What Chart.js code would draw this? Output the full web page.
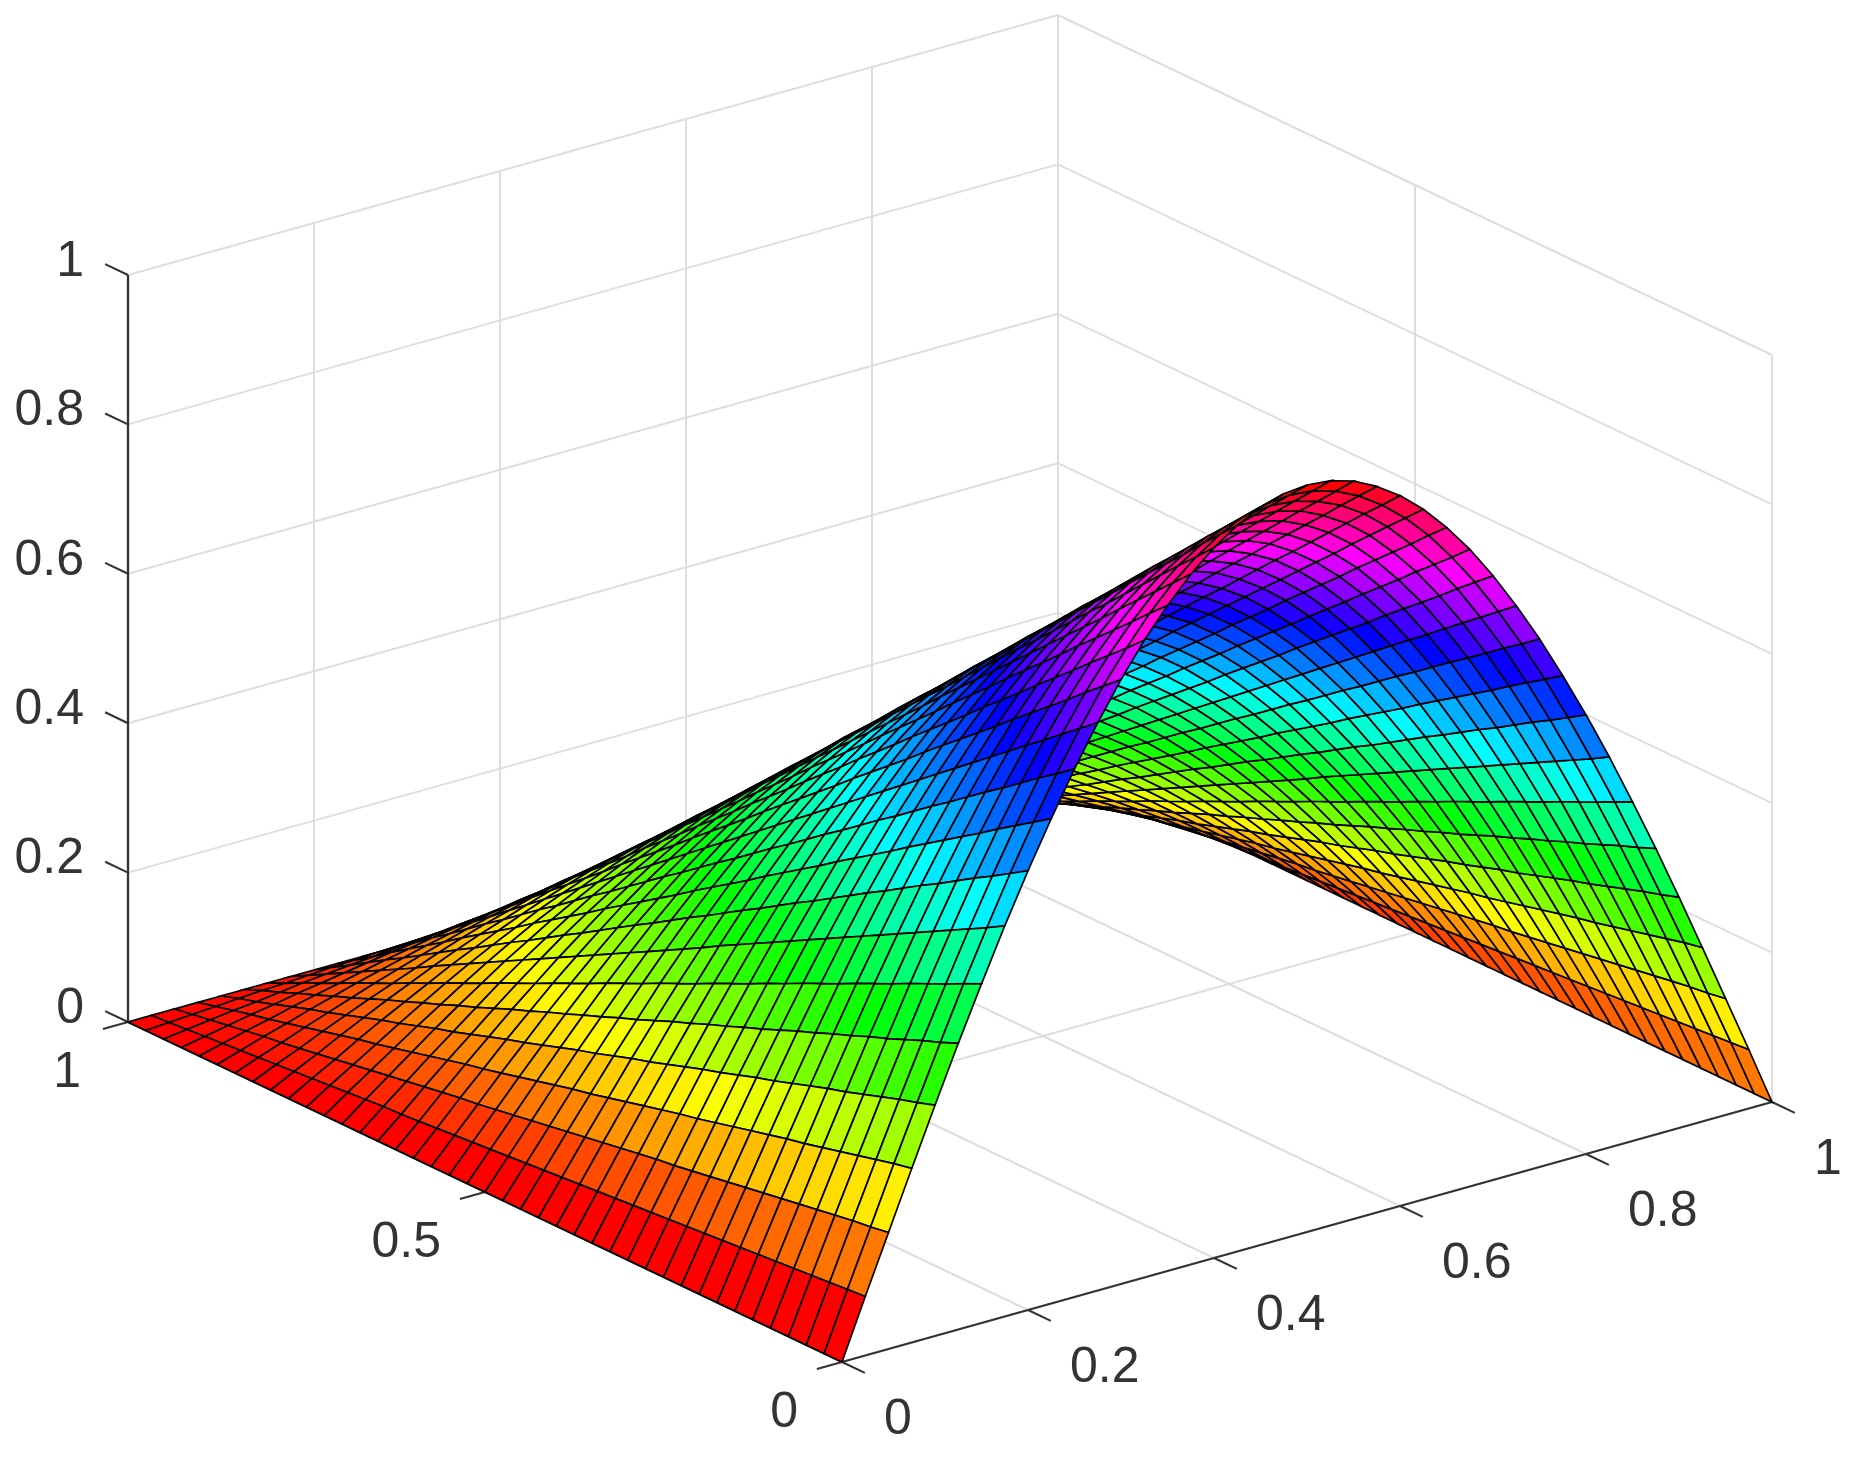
<!DOCTYPE html>
<html>
<head>
<meta charset="utf-8">
<title>Surface</title>
<script src="https://cdn.jsdelivr.net/npm/chart.js@4/dist/chart.umd.min.js"></script>
<style>
html,body{margin:0;padding:0;background:#fff}
canvas{display:block;filter:blur(.5px)}
</style>
</head>
<body>
<canvas id="chart" width="1853" height="1462"></canvas>
<script>
// mesh positions
var xMesh = [0,.025,.05,.075,.1,.125,.15,.175,.2,.225,.25,.275,.3,.325,.35,.375,.4,.425,.45,.475,.5,.525,.55,.575,.6,.625,.65,.675,.7,.725,.75,.775,.8,.825,.85,.875,.9,.925,.95,.975,1];
var yMesh = [0,.025,.05,.075,.1,.125,.15,.175,.2,.225,.25,.275,.3,.325,.35,.375,.4,.425,.45,.475,.5,.525,.55,.575,.6,.625,.65,.675,.7,.725,.75,.775,.8,.825,.85,.875,.9,.925,.95,.975,1];

// surface height, one row per yMesh value, x = 0 .. 0.5 (the arch is the same on the other side)
var zRows = [
[0,.079,.156,.233,.309,.383,.454,.523,.588,.649,.707,.760,.809,.853,.891,.924,.951,.972,.988,.997,1],
[0,.077,.152,.228,.301,.373,.443,.509,.573,.633,.689,.741,.789,.831,.869,.901,.927,.948,.963,.972,.975],
[0,.075,.149,.222,.294,.364,.431,.496,.558,.617,.672,.722,.769,.810,.846,.878,.904,.924,.938,.947,.950],
[0,.073,.145,.216,.286,.354,.420,.483,.544,.601,.654,.703,.748,.789,.824,.855,.880,.899,.914,.922,.925],
[0,.071,.141,.210,.278,.344,.409,.470,.529,.584,.636,.684,.728,.767,.802,.832,.856,.875,.889,.897,.900],
[0,.069,.137,.204,.270,.335,.397,.457,.514,.568,.619,.665,.708,.746,.780,.808,.832,.851,.864,.872,.875],
[0,.067,.133,.198,.263,.325,.386,.444,.500,.552,.601,.646,.688,.725,.757,.785,.808,.827,.840,.847,.850],
[0,.065,.129,.193,.255,.316,.375,.431,.485,.536,.583,.627,.667,.703,.735,.762,.785,.802,.815,.822,.825],
[0,.063,.125,.187,.247,.306,.363,.418,.470,.520,.566,.608,.647,.682,.713,.739,.761,.778,.790,.798,.800],
[0,.061,.121,.181,.239,.297,.352,.405,.456,.503,.548,.589,.627,.661,.691,.716,.737,.754,.765,.773,.775],
[0,.059,.117,.175,.232,.287,.341,.392,.441,.487,.530,.570,.607,.639,.668,.693,.713,.729,.741,.748,.750],
[0,.057,.113,.169,.224,.277,.329,.379,.426,.471,.513,.551,.587,.618,.646,.670,.690,.705,.716,.723,.725],
[0,.055,.109,.163,.216,.268,.318,.366,.411,.455,.495,.532,.566,.597,.624,.647,.666,.681,.691,.698,.700],
[0,.053,.106,.158,.209,.258,.306,.353,.397,.438,.477,.513,.546,.576,.601,.624,.642,.656,.667,.673,.675],
[0,.051,.102,.152,.201,.249,.295,.340,.382,.422,.460,.494,.526,.554,.579,.601,.618,.632,.642,.648,.650],
[0,.049,.098,.146,.193,.239,.284,.327,.367,.406,.442,.475,.506,.533,.557,.577,.594,.608,.617,.623,.625],
[0,.047,.094,.140,.185,.230,.272,.314,.353,.390,.424,.456,.485,.512,.535,.554,.571,.583,.593,.598,.600],
[0,.045,.090,.134,.178,.220,.261,.300,.338,.373,.407,.437,.465,.490,.512,.531,.547,.559,.568,.573,.575],
[0,.043,.086,.128,.170,.210,.250,.287,.323,.357,.389,.418,.445,.469,.490,.508,.523,.535,.543,.548,.550],
[0,.041,.082,.123,.162,.201,.238,.274,.309,.341,.371,.399,.425,.448,.468,.485,.499,.511,.519,.523,.525],
[0,.039,.078,.117,.155,.191,.227,.261,.294,.325,.354,.380,.405,.426,.446,.462,.476,.486,.494,.498,.500],
[0,.037,.074,.111,.147,.182,.216,.248,.279,.308,.336,.361,.384,.405,.423,.439,.452,.462,.469,.474,.475],
[0,.035,.070,.105,.139,.172,.204,.235,.265,.292,.318,.342,.364,.384,.401,.416,.428,.438,.444,.449,.450],
[0,.033,.066,.099,.131,.163,.193,.222,.250,.276,.301,.323,.344,.362,.379,.393,.404,.413,.420,.424,.425],
[0,.031,.063,.093,.124,.153,.182,.209,.235,.260,.283,.304,.324,.341,.356,.370,.380,.389,.395,.399,.400],
[0,.029,.059,.088,.116,.144,.170,.196,.220,.244,.265,.285,.303,.320,.334,.346,.357,.365,.370,.374,.375],
[0,.027,.055,.082,.108,.134,.159,.183,.206,.227,.247,.266,.283,.298,.312,.323,.333,.340,.346,.349,.350],
[0,.026,.051,.076,.100,.124,.148,.170,.191,.211,.230,.247,.263,.277,.290,.300,.309,.316,.321,.324,.325],
[0,.024,.047,.070,.093,.115,.136,.157,.176,.195,.212,.228,.243,.256,.267,.277,.285,.292,.296,.299,.300],
[0,.022,.043,.064,.085,.105,.125,.144,.162,.179,.194,.209,.222,.234,.245,.254,.262,.267,.272,.274,.275],
[0,.020,.039,.058,.077,.096,.114,.131,.147,.162,.177,.190,.202,.213,.223,.231,.238,.243,.247,.249,.250],
[0,.018,.035,.053,.070,.086,.102,.118,.132,.146,.159,.171,.182,.192,.200,.208,.214,.219,.222,.224,.225],
[0,.016,.031,.047,.062,.077,.091,.105,.118,.130,.141,.152,.162,.171,.178,.185,.190,.194,.198,.199,.200],
[0,.014,.027,.041,.054,.067,.079,.091,.103,.114,.124,.133,.142,.149,.156,.162,.166,.170,.173,.174,.175],
[0,.012,.023,.035,.046,.057,.068,.078,.088,.097,.106,.114,.121,.128,.134,.139,.143,.146,.148,.150,.150],
[0,.010,.020,.029,.039,.048,.057,.065,.073,.081,.088,.095,.101,.107,.111,.115,.119,.122,.123,.125,.125],
[0,.008,.016,.023,.031,.038,.045,.052,.059,.065,.071,.076,.081,.085,.089,.092,.095,.097,.099,.100,.100],
[0,.006,.012,.018,.023,.029,.034,.039,.044,.049,.053,.057,.061,.064,.067,.069,.071,.073,.074,.075,.075],
[0,.004,.008,.012,.015,.019,.023,.026,.029,.032,.035,.038,.040,.043,.045,.046,.048,.049,.049,.050,.050],
[0,.002,.004,.006,.008,.010,.011,.013,.015,.016,.018,.019,.020,.021,.022,.023,.024,.024,.025,.025,.025],
[0,0,0,0,0,0,0,0,0,0,0,0,0,0,0,0,0,0,0,0,0]
];

var xTicks = [0,.2,.4,.6,.8,1];
var yTicks = [0,.5,1];
var zTicks = [0,.2,.4,.6,.8,1];
var xTickLabels = ['0','0.2','0.4','0.6','0.8','1'];
var yTickLabels = ['0','0.5','1'];
var zTickLabels = ['0','0.2','0.4','0.6','0.8','1'];

// where the box corners land on the page
var origin = {x:842, y:1362};
var xEnd = {x:1772, y:1102};
var yEnd = {x:128, y:1022};
var zUnit = 747;

function project(x, y, z){
  return {
    x: origin.x + x*(xEnd.x-origin.x) + y*(yEnd.x-origin.x),
    y: origin.y + x*(xEnd.y-origin.y) + y*(yEnd.y-origin.y) - z*zUnit
  };
}

function heightAt(i, j){
  var half = xMesh.length-1;
  return zRows[j][i <= half/2 ? i : half-i];
}

function lineSet(a, b, color, width){
  return {data:[project(a[0],a[1],a[2]), project(b[0],b[1],b[2])], borderColor:color, borderWidth:width, showLine:true, pointRadius:0, fill:false};
}

var datasets = [];

// first dataset is painted last, so nearest cells go first
yMesh.slice(0,-1).forEach(function(y, j){
  xMesh.slice(0,-1).forEach(function(x, i){
    var x2 = xMesh[i+1], y2 = yMesh[j+1];
    var z = heightAt(i,j);
    datasets.push({
      data:[project(x,y,z), project(x2,y,heightAt(i+1,j)), project(x2,y2,heightAt(i+1,j+1)), project(x,y2,heightAt(i,j+1)), project(x,y,z)],
      borderColor:'#000', borderWidth:1.7, backgroundColor:'hsl('+(z*360)+',100%,50%)',
      showLine:true, pointRadius:0, fill:'shape'
    });
  });
});

var axisColor = '#333333', gridColor = '#dedede';
datasets.push(lineSet([0,0,0],[1,0,0],axisColor,2.3));
datasets.push(lineSet([0,0,0],[0,1,0],axisColor,2.3));
datasets.push(lineSet([0,1,0],[0,1,1],axisColor,2.3));
xTicks.forEach(function(x){ datasets.push(lineSet([x,0,0],[x,-.032,0],axisColor,2.1)); });
yTicks.forEach(function(y){ datasets.push(lineSet([0,y,0],[-.027,y,0],axisColor,2.1)); });
zTicks.forEach(function(z){ datasets.push(lineSet([0,1,z],[0,1.032,z],axisColor,2.1)); });

// box walls and floor
xTicks.forEach(function(x){
  datasets.push(lineSet([x,0,0],[x,1,0],gridColor,2));
  if(x>0) datasets.push(lineSet([x,1,0],[x,1,1],gridColor,2));
});
yTicks.forEach(function(y){
  datasets.push(lineSet([0,y,0],[1,y,0],gridColor,2));
  if(y<1) datasets.push(lineSet([1,y,0],[1,y,1],gridColor,2));
});
zTicks.forEach(function(z){
  datasets.push(lineSet([0,1,z],[1,1,z],gridColor,2));
  datasets.push(lineSet([1,1,z],[1,0,z],gridColor,2));
});

var tickText = {
  id:'tickText',
  afterDraw:function(chart){
    var c = chart.ctx, sx = chart.scales.x, sy = chart.scales.y;
    function put(p, label, dx, dy, align){
      c.textAlign = align;
      c.fillText(label, sx.getPixelForValue(p.x)+dx, sy.getPixelForValue(p.y)+dy);
    }
    c.save();
    c.font = '50px "Liberation Sans", Arial, sans-serif';
    c.fillStyle = '#333333';
    c.textBaseline = 'middle';
    xTicks.forEach(function(x,i){ put(project(x,0,0), xTickLabels[i], 42, 58, 'left'); });
    yTicks.forEach(function(y,i){ put(project(0,y,0), yTickLabels[i], y==1 ? -47 : -44, 51, 'right'); });
    zTicks.forEach(function(z,i){ put(project(0,1,z), zTickLabels[i], -44, -13, 'right'); });
    c.restore();
  }
};

new Chart(document.getElementById('chart'), {
  type:'scatter',
  data:{datasets:datasets},
  options:{
    responsive:false, animation:false, events:[],
    layout:{padding:0},
    plugins:{legend:{display:false}, tooltip:{enabled:false}},
    scales:{
      x:{type:'linear', min:0, max:1853, display:false},
      y:{type:'linear', min:0, max:1462, reverse:true, display:false}
    }
  },
  plugins:[tickText]
});
</script>
</body>
</html>
